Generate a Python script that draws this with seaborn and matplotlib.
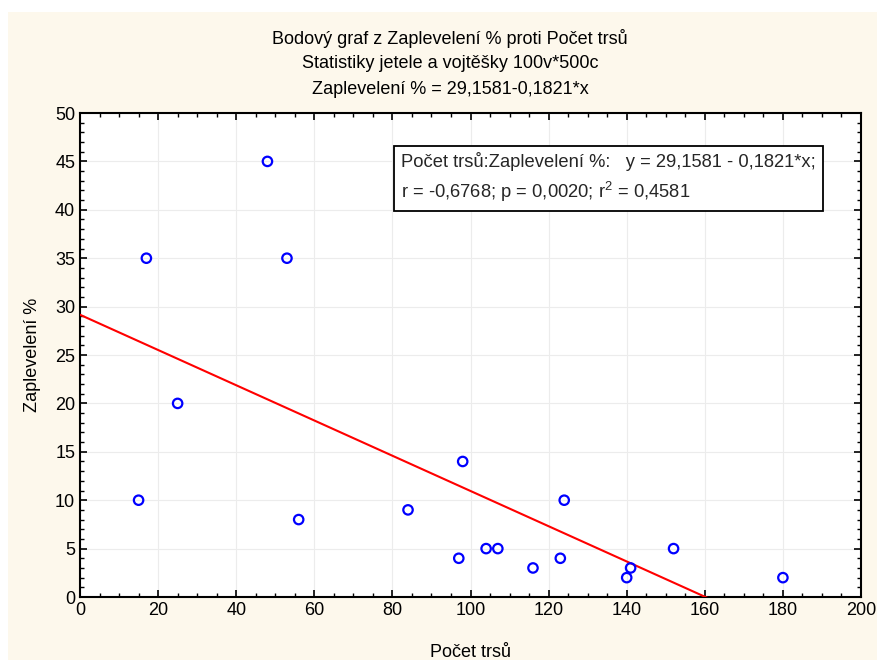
import numpy as np
import pandas as pd
import matplotlib
matplotlib.use("Agg")
import matplotlib.pyplot as plt
import seaborn as sns
from matplotlib.ticker import MultipleLocator
from matplotlib.patches import Rectangle

# Data
pocet_trsu = [15, 17, 25, 48, 53, 56, 84, 97, 98, 104, 107, 116, 123, 124, 140, 141, 152, 180]
zaplevelení = [10, 35, 20, 45, 35, 8, 9, 4, 14, 5, 5, 3, 4, 10, 2, 3, 5, 2]
x_ticks = [0, 20, 40, 60, 80, 100, 120, 140, 160, 180, 200]
y_ticks = [0, 5, 10, 15, 20, 25, 30, 35, 40, 45, 50]

title_lines = ["Bodový graf z Zaplevelení % proti Počet trsů",
               "Statistiky jetele a vojtěšky 100v*500c",
               "Zaplevelení % = 29,1581-0,1821*x"]
box_text = ("Počet trsů:Zaplevelení %:   y = 29,1581 - 0,1821*x;\n"
            "r = -0,6768; p = 0,0020; r$^2$ = 0,4581")

df = pd.DataFrame({"x": pocet_trsu, "y": zaplevelení})

sns.set_theme(style="white")
plt.rcParams["font.family"] = ["Liberation Sans", "DejaVu Sans"]
plt.rcParams["mathtext.fontset"] = "custom"
plt.rcParams["mathtext.rm"] = "Liberation Sans"
plt.rcParams["mathtext.default"] = "regular"

fig = plt.figure(figsize=(8.78, 6.64), dpi=100, facecolor="white")
fig.patches.append(Rectangle((8 / 878, 4 / 664), 1 - 8 / 878, 648 / 664,
                             transform=fig.transFigure, facecolor="#FDF8EC",
                             edgecolor="none", zorder=-10))
ax = fig.add_axes([80 / 878, 67 / 664, 781 / 878, 484 / 664])
ax.set_facecolor("white")

# regression line computed from data
slope, intercept = np.polyfit(df["x"], df["y"], 1)
xl = np.array([x_ticks[0], x_ticks[-1]], dtype=float)
sns.lineplot(x=xl, y=intercept + slope * xl, color="red", lw=1.5, ax=ax, zorder=3)

sns.scatterplot(data=df, x="x", y="y", ax=ax, marker="o", s=46,
                facecolors="none", edgecolor="blue", linewidth=1.6, zorder=4)

ax.set_xlim(x_ticks[0], x_ticks[-1])
ax.set_ylim(y_ticks[0], y_ticks[-1])
ax.set_xticks(x_ticks)
ax.set_yticks(y_ticks)
ax.xaxis.set_minor_locator(MultipleLocator(5))
ax.yaxis.set_minor_locator(MultipleLocator(1))
ax.tick_params(which="both", direction="in", top=True, right=True,
               bottom=True, left=True, labelsize=13, colors="black")
ax.tick_params(which="major", length=5, width=1.2)
ax.tick_params(which="minor", length=3, width=1)
ax.grid(True, which="major", color="#ECECEC", lw=0.8)
for sp in ax.spines.values():
    sp.set_visible(True)
    sp.set_color("black")
    sp.set_linewidth(1.5)

ax.set_xlabel("Počet trsů", fontsize=13, color="black", labelpad=18)
ax.set_ylabel("Zaplevelení %", fontsize=13, color="black", labelpad=10)

for i, t in enumerate(title_lines):
    fig.text(450 / 878, 1 - (38 + 25.5 * i) / 664, t, ha="center", va="center",
             fontsize=13, color="black")

ax.text(0.411, 0.866, box_text, transform=ax.transAxes, fontsize=13.2,
        va="center", ha="left", linespacing=1.5, zorder=6,
        bbox=dict(boxstyle="square,pad=0.4", facecolor="white",
                  edgecolor="black", linewidth=1.3))

fig.savefig("out.png", dpi=100, facecolor=fig.get_facecolor())
